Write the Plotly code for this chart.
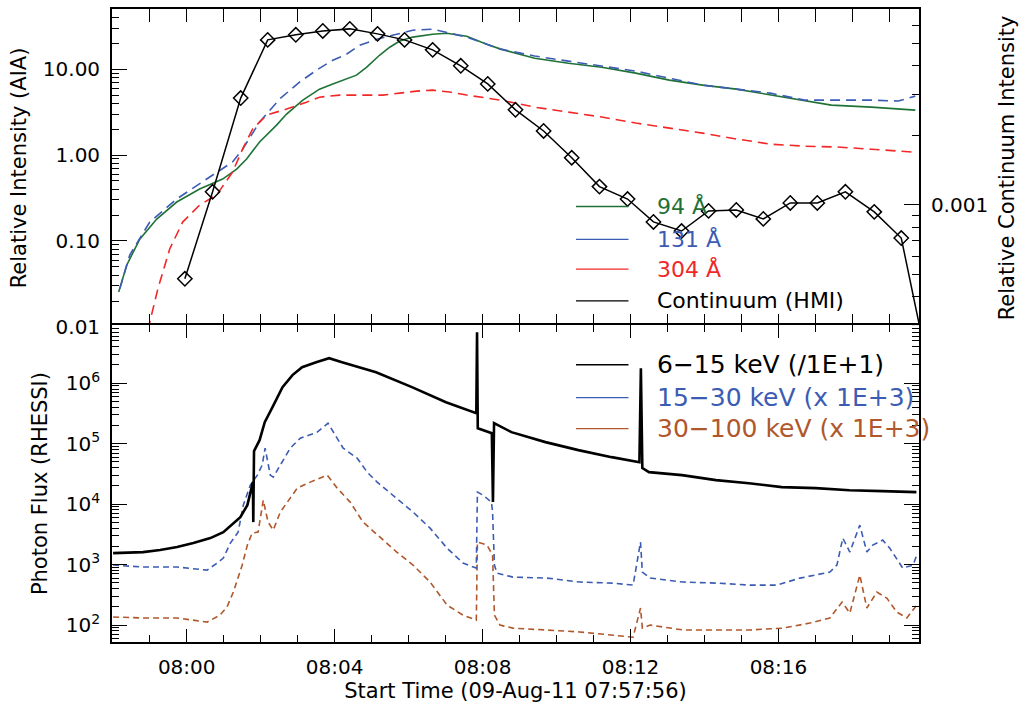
import pandas as pd
import plotly.graph_objects as go

# ---- time values are minutes after 08:00:00 UT, 09-Aug-2011 ----
# AIA relative intensities (top panel, left axis)
aia94_t = [-1.84, -1.62, -1.27, -0.81, -0.27, 0.35, 0.97, 1.35, 1.62, 1.97, 2.43, 2.70, 3.14, 3.59, 3.95,
           4.32, 4.59, 4.86, 5.22, 5.49, 5.76, 6.11, 6.65, 7.03, 7.57, 8.11, 8.49, 9.41, 10.32, 11.22,
           12.14, 13.05, 13.95, 14.86, 15.78, 16.70, 17.43, 18.51, 19.70]
aia94_v = [0.0255, 0.0526, 0.105, 0.180, 0.284, 0.403, 0.526, 0.687, 0.90, 1.42, 2.23, 3.0, 4.36, 5.85, 6.70,
           7.65, 8.51, 10.5, 14.6, 18.0, 21.2, 23.6, 25.5, 26.2, 24.2, 19.5, 17.1, 13.4, 11.7, 10.5,
           8.98, 7.45, 6.51, 5.85, 4.99, 4.25, 3.81, 3.61, 3.33]

aia131_t = [-1.81, -1.54, -1.00, -0.27, 0.54, 1.24, 1.51, 1.97, 2.51, 3.05, 3.51, 3.95, 4.32, 4.68, 5.14,
            5.57, 6.11, 6.65, 7.57, 8.49, 9.41, 10.32, 11.22, 12.14, 13.05, 13.95, 14.86, 15.78, 16.70,
            17.59, 18.51, 19.24, 19.70]
aia131_v = [0.0277, 0.0687, 0.166, 0.308, 0.526, 0.83, 1.17, 2.42, 4.48, 7.06, 9.73, 12.7, 14.9, 19.0, 22.3,
            24.8, 28.4, 29.2, 23.6, 17.1, 14.2, 12.4, 10.8, 9.48, 7.85, 6.51, 5.85, 5.26, 4.36,
            4.36, 4.36, 4.25, 4.85]

aia304_t = [-1.30, -1.03, -0.78, -0.46, -0.11, 0.35, 0.81, 1.24, 1.51, 1.78, 2.16, 2.70, 3.24, 3.59, 4.14,
            4.86, 5.30, 5.76, 6.22, 6.65, 7.11, 7.57, 8.49, 9.41, 10.32, 11.22, 12.14, 13.05, 13.95, 14.86,
            15.78, 16.70, 17.59, 18.51, 19.70]
aia304_v = [0.004, 0.0100, 0.0277, 0.0807, 0.166, 0.262, 0.343, 0.634, 1.17, 2.0, 2.92, 3.43, 4.13, 4.72, 4.99,
            4.99, 4.99, 5.26, 5.55, 5.70, 5.41, 4.99, 4.36, 3.61, 3.16, 2.77, 2.36, 2.06, 1.80, 1.54,
            1.34, 1.27, 1.24, 1.17, 1.08]

# HMI continuum (top panel, right axis)
hmi_t = [-0.05, 0.70, 1.46, 2.19, 2.95, 3.68, 4.41, 5.16, 5.89, 6.65, 7.41, 8.14, 8.89, 9.65, 10.41,
         11.16, 11.92, 12.62, 13.38, 14.11, 14.86, 15.59, 16.32, 17.05, 17.81, 18.59, 19.32, 20.07]
hmi_v = [4.79e-4, 1.14e-3, 2.90e-3, 5.18e-3, 5.45e-3, 5.66e-3, 5.78e-3, 5.50e-3, 5.18e-3, 4.69e-3, 4.00e-3,
         3.34e-3, 2.58e-3, 2.09e-3, 1.60e-3, 1.20e-3, 1.06e-3, 8.44e-4, 7.71e-4, 9.42e-4, 9.51e-4, 8.70e-4,
         1.02e-3, 1.02e-3, 1.14e-3, 9.33e-4, 7.19e-4, 1.9e-4]

# RHESSI photon flux (bottom panel)
hx1_t = [-1.99, -1.18, -0.72, -0.26, 0.18, 0.64, 0.99, 1.26, 1.45, 1.64, 1.76, 1.79, 1.80, 1.82, 1.97,
         2.11, 2.32, 2.59, 2.86, 3.12, 3.50, 3.85, 4.20, 4.66, 5.12, 6.09, 7.01, 7.83, 7.85, 7.87,
         8.25, 8.28, 8.31, 8.78, 9.70, 10.59, 11.49, 12.24, 12.28, 12.32, 12.50, 13.39, 14.31, 15.20, 16.09,
         17.01, 17.92, 18.81, 19.73]
hx1_v = [1550, 1610, 1740, 1950, 2270, 2740, 3440, 4850, 6100, 9620, 18400, 23100, 5040, 75200, 114000,
         226000, 401000, 859000, 1.36e6, 1.84e6, 2.22e6, 2.59e6, 2.22e6, 1.84e6, 1.52e6, 859000, 485000, 319000,
         6.97e6, 180000, 149000, 10800, 218000, 155000, 106000, 78200, 59800, 49400, 1.77e6, 39400, 33800,
         30200, 24900, 22200, 19100, 18400, 17000, 16400, 15800]

hx2_t = [-1.99, -1.18, -0.26, 0.55, 0.82, 0.99, 1.18, 1.39, 1.53, 1.72, 1.91, 2.04, 2.12, 2.26, 2.34,
         2.53, 2.80, 3.07, 3.53, 3.82, 4.07, 4.23, 4.61, 4.88, 5.15, 5.68, 6.12, 6.58, 7.04, 7.47,
         7.83, 7.86, 8.01, 8.24, 8.27, 8.32, 8.39, 8.82, 9.74, 10.63, 11.52, 12.07, 12.27, 12.32, 12.53,
         13.42, 14.34, 15.23, 15.96, 16.58, 17.39, 17.58, 17.74, 17.93, 18.20, 18.39, 18.55, 18.82, 19.01,
         19.36, 19.64, 19.74]
hx2_v = [982, 910, 910, 811, 1060, 1280, 2270, 3440, 9620, 20600, 30200, 44100, 84300, 30200, 27900,
         44100, 84300, 123000, 155000, 218000, 123000, 84300, 57500, 33800, 23100, 12600, 7380, 4010, 1870, 1060,
         875, 15800, 14100, 10800, 7380, 982, 724, 621, 598, 514, 494, 458, 2360, 752, 598,
         514, 494, 458, 458, 598, 752, 982, 2740, 1610, 4500, 1610, 2100, 2540, 1870,
         875, 982, 1440]

hx3_t = [-1.99, -1.18, -0.26, 0.55, 0.90, 1.09, 1.26, 1.50, 1.64, 1.77, 1.93, 2.07, 2.20, 2.34, 2.53,
         2.72, 2.99, 3.34, 3.80, 4.07, 4.42, 4.77, 5.15, 5.68, 6.12, 6.58, 7.04, 7.47, 7.83, 7.86,
         8.12, 8.27, 8.32, 8.47, 8.82, 9.74, 10.63, 11.52, 12.07, 12.27, 12.32, 12.53, 13.42, 14.34, 15.23,
         16.12, 16.85, 17.39, 17.72, 17.93, 18.20, 18.39, 18.66, 18.93, 19.20, 19.47, 19.74]
hx3_v = [136, 131, 131, 112, 146, 199, 351, 982, 2100, 3320, 3440, 11600, 5040, 3720, 7380,
         10800, 18400, 23100, 30200, 18400, 10800, 5040, 3080, 1610, 982, 514, 214, 146, 121, 2360,
         2100, 1440, 146, 100, 89, 83, 77, 68, 63, 191, 89, 100, 83, 83, 83,
         89, 108, 131, 240, 158, 670, 191, 351, 279, 164, 131, 214]

top_labels = ["94 Å", "131 Å", "304 Å", "Continuum (HMI)"]
bottom_labels = ["6−15 keV (/1E+1)", "15−30 keV (x 1E+3)", "30−100 keV (x 1E+3)"]

GREEN = "#1f7236"
BLUE = "#3c5cb4"
RED = "#f02828"
BROWN = "#b0582c"
FONT = "DejaVu Sans"

base = pd.Timestamp("2011-08-09 08:00:00")


def tm(mins):
    return [base + pd.Timedelta(minutes=m) for m in mins]


xr = [base + pd.Timedelta(minutes=-2.02), base + pd.Timedelta(minutes=19.80)]

fig = go.Figure()
fig.add_trace(go.Scatter(x=tm(aia94_t), y=aia94_v, mode="lines", line=dict(color=GREEN, width=1.6),
                         xaxis="x", yaxis="y"))
fig.add_trace(go.Scatter(x=tm(aia131_t), y=aia131_v, mode="lines",
                         line=dict(color=BLUE, width=1.6, dash="10px,6px"), xaxis="x", yaxis="y"))
fig.add_trace(go.Scatter(x=tm(aia304_t), y=aia304_v, mode="lines",
                         line=dict(color=RED, width=1.6, dash="10px,6px"), xaxis="x", yaxis="y"))
fig.add_trace(go.Scatter(x=tm(hmi_t), y=hmi_v, mode="lines+markers",
                         line=dict(color="black", width=1.5),
                         marker=dict(symbol="diamond-open", size=11, color="black", line=dict(width=1.5)),
                         xaxis="x", yaxis="y3"))
fig.add_trace(go.Scatter(x=tm(hx3_t), y=hx3_v, mode="lines",
                         line=dict(color=BROWN, width=1.6, dash="6px,4px"), xaxis="x2", yaxis="y2"))
fig.add_trace(go.Scatter(x=tm(hx2_t), y=hx2_v, mode="lines",
                         line=dict(color=BLUE, width=1.6, dash="6px,4px"), xaxis="x2", yaxis="y2"))
fig.add_trace(go.Scatter(x=tm(hx1_t), y=hx1_v, mode="lines", line=dict(color="black", width=2.6),
                         xaxis="x2", yaxis="y2"))


def minor_vals(d0, d1):
    return [k * 10.0 ** d for d in range(d0, d1 + 1) for k in range(2, 10)]


tickfont = dict(family=FONT, size=20, color="black")
titlefont = dict(family=FONT, size=21, color="black")
common = dict(showline=True, linecolor="black", linewidth=1.8, showgrid=False, zeroline=False,
              ticks="inside", tickcolor="black", tickwidth=1.3, tickfont=tickfont)

SPLIT = 0.4992
OV = 0.0014  # small overlap so the shared border is a single line

xcommon = dict(common, type="date", range=xr, dtick=240000, tick0="2011-08-09 08:00:00",
               ticklen=13, mirror="allticks",
               minor=dict(dtick=60000, ticklen=7, ticks="inside", tickcolor="black", tickwidth=1.3))

fig.update_layout(
    width=1026, height=709,
    margin=dict(l=112, r=107, t=7, b=67),
    paper_bgcolor="white", plot_bgcolor="white",
    showlegend=False,
    font=dict(family=FONT, color="black"),
    xaxis=dict(xcommon, domain=[0, 1], anchor="y", showticklabels=False),
    xaxis2=dict(xcommon, domain=[0, 1], anchor="y2", showticklabels=True, tickformat="%H:%M",
                ticklabelstandoff=6,
                title=dict(text="Start Time (09-Aug-11 07:57:56)", font=dict(family=FONT, size=21), standoff=2)),
    yaxis=dict(common, domain=[SPLIT - OV, 1], anchor="x", type="log", range=[-2, 1.70],
               tickvals=[0.01, 0.1, 1, 10], ticktext=["0.01", "0.10", "1.00", "10.00"], ticklen=15,
               minor=dict(tickvals=minor_vals(-2, 1), ticklen=7, ticks="inside", tickcolor="black", tickwidth=1.3),
               ticklabelstandoff=6,
               title=dict(text="Relative Intensity (AIA)", font=titlefont, standoff=10)),
    yaxis3=dict(common, overlaying="y", side="right", anchor="x", type="log", range=[-3.528, -2.152],
                tickvals=[0.001], ticktext=["0.001"], ticklen=15,
                minor=dict(tickvals=minor_vals(-4, -3), ticklen=7, ticks="inside", tickcolor="black", tickwidth=1.3),
                ticklabelstandoff=6,
                title=dict(text="Relative Continuum Intensity", font=titlefont, standoff=12)),
    yaxis2=dict(common, domain=[0, SPLIT + OV], anchor="x2", type="log", range=[1.72, 6.96],
                tickvals=[1e2, 1e3, 1e4, 1e5, 1e6],
                ticktext=["10<sup>2</sup>", "10<sup>3</sup>", "10<sup>4</sup>", "10<sup>5</sup>", "10<sup>6</sup>"],
                ticklen=15, mirror="allticks",
                minor=dict(tickvals=minor_vals(1, 6), ticklen=7, ticks="inside", tickcolor="black", tickwidth=1.3),
                ticklabelstandoff=6,
                title=dict(text="Photon Flux (RHESSI)", font=titlefont, standoff=12)),
)

# hand-drawn style legends (lines + coloured text)
top_colors = [GREEN, BLUE, RED, "black"]
top_y = [0.688, 0.636, 0.589, 0.539]
for lab, col, yy in zip(top_labels, top_colors, top_y):
    fig.add_shape(type="line", xref="paper", yref="paper", x0=0.575, x1=0.640, y0=yy, y1=yy,
                  line=dict(color=col, width=1.3))
    fig.add_annotation(xref="paper", yref="paper", x=0.673, y=yy, text=lab, showarrow=False,
                       xanchor="left", yanchor="middle", font=dict(family=FONT, size=22, color=col))

bot_colors = ["black", BLUE, BROWN]
bot_y = [0.438, 0.386, 0.337]
for lab, col, yy in zip(bottom_labels, bot_colors, bot_y):
    fig.add_shape(type="line", xref="paper", yref="paper", x0=0.575, x1=0.640, y0=yy, y1=yy,
                  line=dict(color=col, width=1.3))
    fig.add_annotation(xref="paper", yref="paper", x=0.673, y=yy, text=lab, showarrow=False,
                       xanchor="left", yanchor="middle", font=dict(family=FONT, size=25, color=col))

fig.write_html("out.html", config={"displayModeBar": False},
               post_script="document.body.style.margin='0px';")
